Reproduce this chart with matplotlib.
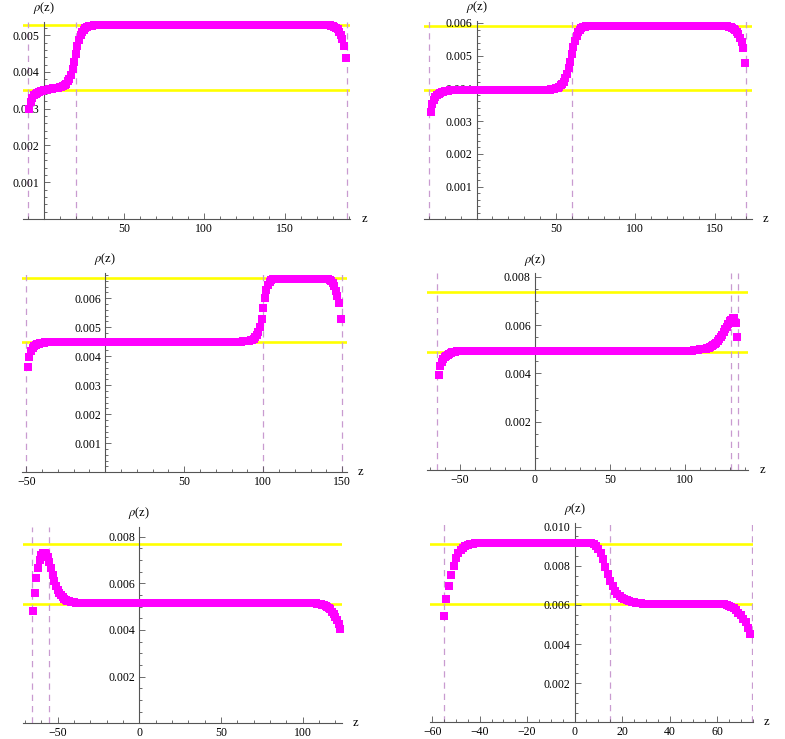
import numpy as np
import matplotlib
matplotlib.use('Agg')
import matplotlib.pyplot as plt
from matplotlib.ticker import MultipleLocator, FixedLocator, FuncFormatter, FormatStrFormatter

# density profiles rho(z), one sample per unit of z
z_start_1 = -9
rho_1 = ([0.00300, 0.00318, 0.00330, 0.00337, 0.00341, 0.00344, 0.00346, 0.00348, 0.00349,
          0.00350, 0.00351, 0.00352, 0.00353, 0.00354, 0.00354, 0.00355, 0.00355, 0.00356,
          0.00357, 0.00358, 0.00359, 0.00361, 0.00364, 0.00368, 0.00374, 0.00382, 0.00393,
          0.00408, 0.00428, 0.00450, 0.00470, 0.00487, 0.00500, 0.00509, 0.00515, 0.00519,
          0.00522, 0.00524, 0.00525, 0.00526]
         + [0.00527] * 148
         + [0.00526, 0.00525, 0.00523, 0.00520, 0.00516, 0.00510, 0.00501, 0.00489,
            0.00470, 0.00437])
bulk_1 = [0.00529, 0.003515]
walls_1 = [-10, 20, 189]

z_start_2 = -29
rho_2 = ([0.00327, 0.00352, 0.00366, 0.00374, 0.00379, 0.00383, 0.00386, 0.00388, 0.00390,
          0.00391, 0.00392, 0.00393, 0.00394]
         + [0.00395] * 62
         + [0.00396, 0.00397, 0.00398, 0.00399, 0.00400, 0.00402, 0.00405, 0.00409, 0.00414,
            0.00421, 0.00431, 0.00444, 0.00461, 0.00482, 0.00505, 0.00527, 0.00546, 0.00561,
            0.00572, 0.00579, 0.00584, 0.00587, 0.00589]
         + [0.00591] * 90
         + [0.00589, 0.00588, 0.00586, 0.00583, 0.00579, 0.00573, 0.00565, 0.00554, 0.00541,
            0.00524, 0.00478])
bulk_2 = [0.00592, 0.003947]
walls_2 = [-30, 60, 170]

z_start_3 = -49
rho_3 = ([0.00362, 0.00399, 0.00417, 0.00427, 0.00434, 0.00438, 0.00441, 0.00443, 0.00445,
          0.00446, 0.00447, 0.00448, 0.00449]
         + [0.00450] * 123
         + [0.00451, 0.00451, 0.00452, 0.00453, 0.00454, 0.00455, 0.00456, 0.00460, 0.00466,
            0.00474, 0.00485, 0.00502, 0.00530, 0.00565, 0.00600, 0.00628, 0.00647, 0.00657,
            0.00663, 0.00666]
         + [0.00668] * 34
         + [0.00666, 0.00664, 0.00660, 0.00652, 0.00641, 0.00626, 0.00607, 0.00585, 0.00528])
bulk_3 = [0.00671, 0.00448]
walls_3 = [-50, 100, 150]

z_start_4 = -64
rho_4 = ([0.00393, 0.00430, 0.00447, 0.00458, 0.00466, 0.00472, 0.00477, 0.00481, 0.00484,
          0.00487, 0.00489, 0.00490, 0.00491, 0.00492, 0.00493]
         + [0.00494] * 155
         + [0.00495, 0.00496, 0.00497, 0.00498, 0.00499, 0.00500, 0.00501, 0.00502, 0.00503,
            0.00505, 0.00507, 0.00509, 0.00512, 0.00516, 0.00521, 0.00527, 0.00534, 0.00542,
            0.00551, 0.00561, 0.00572, 0.00583, 0.00594, 0.00605, 0.00615, 0.00623, 0.00629,
            0.00631, 0.00607, 0.00552])
bulk_4 = [0.00738, 0.00490]
walls_4 = [-65, 130.7, 135.6]

z_start_5 = -65
rho_5 = ([0.00483, 0.00560, 0.00621, 0.00664, 0.00700, 0.00722, 0.00730, 0.00731, 0.00726,
          0.00712, 0.00690, 0.00664, 0.00636, 0.00610, 0.00589, 0.00571, 0.00558, 0.00548,
          0.00540, 0.00534, 0.00529, 0.00526, 0.00523, 0.00521, 0.00519, 0.00518, 0.00517,
          0.00516, 0.00515]
         + [0.00514] * 145
         + [0.00513, 0.00512, 0.00511, 0.00509, 0.00507, 0.00504, 0.00500, 0.00495, 0.00488,
            0.00479, 0.00468, 0.00456, 0.00442, 0.00425, 0.00403])
bulk_5 = [0.00769, 0.00510]
walls_5 = [-65.5, -55.3]

z_start_6 = -55
rho_6 = ([0.00543, 0.00630, 0.00697, 0.00753, 0.00800, 0.00838, 0.00863, 0.00880, 0.00892,
          0.00900, 0.00906, 0.00910, 0.00912, 0.00914, 0.00915]
         + [0.00916] * 47
         + [0.00914, 0.00910, 0.00902, 0.00888, 0.00866, 0.00834, 0.00796, 0.00757, 0.00722,
            0.00694, 0.00672, 0.00656, 0.00644, 0.00635, 0.00628, 0.00623, 0.00619, 0.00616,
            0.00613, 0.00611, 0.00609, 0.00608, 0.00607, 0.00606]
         + [0.00605] * 32
         + [0.00603, 0.00600, 0.00596, 0.00590, 0.00582, 0.00572, 0.00560, 0.00546, 0.00530,
            0.00510, 0.00484, 0.00450])
bulk_6 = [0.00911, 0.00603]
walls_6 = [-55.2, 15, 74.8]


def minus_int(v, pos):
    return ('%d' % v).replace('-', '\u2212')


def draw_panel(fig, rect, z_start, rho, bulk, walls, xlim, ylim,
               xticks, xminor, yticks, yminor):
    ax = fig.add_axes(rect)
    ax.patch.set_visible(False)
    z = z_start + np.arange(len(rho))

    for level in bulk:
        ax.axhline(level, color='#ffff00', lw=1.9, zorder=1)
    for w in walls:
        ax.axvline(w, color='#c99bd0', lw=0.9, ls=(0, (5, 4)), zorder=1)
    ax.plot(z, rho, 's', color='#ff00ff', ms=5.4, mew=0, zorder=3, clip_on=False)

    ax.set_xlim(*xlim)
    ax.set_ylim(*ylim)

    # Mathematica-like axes crossing at the origin
    ax.spines['left'].set_position(('data', 0))
    ax.spines['bottom'].set_position(('data', 0))
    ax.spines['top'].set_visible(False)
    ax.spines['right'].set_visible(False)
    for s in ('left', 'bottom'):
        ax.spines[s].set_color('#555555')
        ax.spines[s].set_linewidth(0.8)
        ax.spines[s].set_zorder(2)

    ax.xaxis.set_major_locator(FixedLocator(xticks))
    ax.xaxis.set_minor_locator(MultipleLocator(xminor))
    ax.yaxis.set_major_locator(FixedLocator(yticks))
    ax.yaxis.set_minor_locator(MultipleLocator(yminor))
    ax.xaxis.set_major_formatter(FuncFormatter(minus_int))
    ax.yaxis.set_major_formatter(FormatStrFormatter('%.3f'))
    ax.tick_params(which='both', direction='in', color='#555555', width=0.6,
                   labelsize=8.5, labelcolor='black', pad=3)
    ax.tick_params(which='major', length=4)
    ax.tick_params(which='minor', length=2)

    ax.annotate(r'$\rho$(z)', xy=(0, 1), xycoords=('data', 'axes fraction'),
                xytext=(0, 10), textcoords='offset points',
                ha='center', va='center', fontsize=9)
    ax.annotate('z', xy=(1, 0), xycoords='axes fraction',
                xytext=(8, 0), textcoords='offset points',
                ha='left', va='center', fontsize=9)
    return ax


def main():
    plt.rcParams['font.family'] = ['Liberation Serif', 'DejaVu Serif']
    plt.rcParams['mathtext.fontset'] = 'stix'

    fig = plt.figure(figsize=(7.85, 7.39), dpi=100)

    draw_panel(fig, [0.0293, 0.7037, 0.4166, 0.2666], z_start_1, rho_1, bulk_1, walls_1,
               (-12.9, 190.7), (0, 0.00536),
               [50, 100, 150], 10, [0.001, 0.002, 0.003, 0.004, 0.005], 0.0002)
    draw_panel(fig, [0.540, 0.7033, 0.4175, 0.2687], z_start_2, rho_2, bulk_2, walls_2,
               (-33.2, 173.3), (0, 0.00607),
               [50, 100, 150], 10, [0.001, 0.002, 0.003, 0.004, 0.005, 0.006], 0.0002)
    draw_panel(fig, [0.0276, 0.3609, 0.414, 0.2693], z_start_3, rho_3, bulk_3, walls_3,
               (-52.9, 152.8), (0, 0.00686),
               [-50, 50, 100, 150], 10, [0.001, 0.002, 0.003, 0.004, 0.005, 0.006], 0.0002)
    draw_panel(fig, [0.5435, 0.364, 0.4097, 0.266], z_start_4, rho_4, bulk_4, walls_4,
               (-72.2, 142.2), (0, 0.00814),
               [-50, 0, 50, 100], 10, [0.002, 0.004, 0.006, 0.008], 0.0005)
    draw_panel(fig, [0.0289, 0.0212, 0.4064, 0.266], z_start_5, rho_5, bulk_5, walls_5,
               (-71.4, 123.9), (0, 0.00842),
               [-50, 0, 50, 100], 10, [0.002, 0.004, 0.006, 0.008], 0.0005)
    draw_panel(fig, [0.5478, 0.0226, 0.411, 0.2693], z_start_6, rho_6, bulk_6, walls_6,
               (-60.9, 75.0), (0, 0.01017),
               [-60, -40, -20, 0, 20, 40, 60], 5, [0.002, 0.004, 0.006, 0.008, 0.010], 0.0005)

    fig.savefig('out.png', dpi=100)


if __name__ == '__main__':
    main()
